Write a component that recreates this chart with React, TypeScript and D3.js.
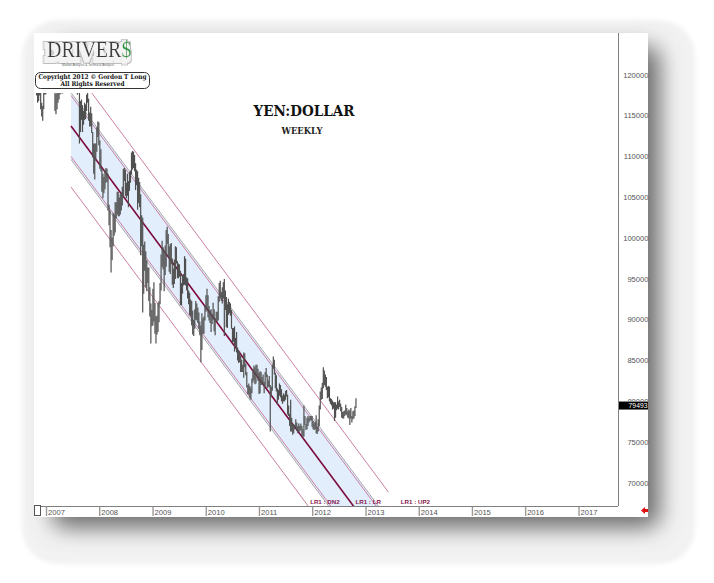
import React from "react";
import * as d3 from "d3";

// ---------- DATA (USDJPY x1000, weekly high/low, values in thousands) ----------
const yearLabels = ["2007", "2008", "2009", "2010", "2011", "2012", "2013", "2014", "2015", "2016", "2017"];
const priceTicks = [70000, 75000, 80000, 85000, 90000, 95000, 100000, 105000, 110000, 115000, 120000];
const lastPrice = 79493;

const start2006 = "2006-10-09";
const w2006: [number, number][] = [
  [118.6, 119.9], [118.5, 119.7], [117.5, 119.4], [116.6, 117.9], [116.8, 118.2], [117.5, 118.3],
  [115.8, 118.0], [114.9, 116.6], [114.4, 116.2], [115.8, 118.0], [117.6, 118.8], [117.6, 119.4],
];
const start2007 = "2007-01-01";
const w2007: [number, number][] = [
  [118.3, 119.9], [119.3, 121.0], [120.2, 121.9], [120.4, 122.2], [120.2, 121.5],
  [119.9, 121.9], [118.9, 121.4], [120.6, 121.7], [115.6, 120.8],
  [115.2, 117.7], [115.8, 118.0], [116.6, 118.2], [117.0, 118.4],
  [117.6, 118.5], [118.4, 120.2], [117.7, 119.5], [118.2, 120.0], [119.4, 120.6],
  [119.3, 120.6], [119.6, 121.0], [120.6, 121.9], [120.8, 122.0],
  [120.9, 122.2], [121.9, 123.0], [122.8, 124.1], [122.3, 123.9],
  [122.2, 123.4], [121.1, 123.0], [120.6, 122.5], [118.2, 121.8], [117.6, 119.9],
  [117.8, 119.9], [111.6, 118.9], [113.0, 116.8], [114.5, 117.0],
  [113.0, 116.3], [113.9, 115.6], [114.5, 116.6], [114.6, 116.4],
  [115.6, 117.6], [116.6, 117.9], [114.4, 117.1], [113.7, 115.4], [113.7, 116.1],
  [112.9, 115.3], [109.9, 113.0], [107.9, 111.6], [107.2, 111.6],
  [109.5, 111.6], [110.6, 113.6], [112.4, 114.3], [111.4, 114.2], [108.5, 112.0],
];
const start2008 = "2008-01-07";
const w2008: [number, number][] = [
  [108.2, 110.9], [105.7, 108.6], [104.9, 107.9], [105.5, 107.5],
  [106.0, 108.4], [106.8, 108.6], [106.9, 108.5], [103.4, 107.9],
  [101.6, 104.1], [98.9, 103.4], [95.8, 101.0], [97.3, 100.1], [99.0, 103.1],
  [100.3, 102.9], [100.7, 104.4], [102.4, 104.4], [102.9, 105.7],
  [102.7, 105.7], [102.7, 105.0], [102.9, 105.4], [103.4, 105.6],
  [104.0, 106.3], [105.0, 108.5], [107.0, 108.6], [105.2, 108.4], [104.9, 106.8],
  [105.2, 107.9], [103.8, 107.0], [105.8, 108.1], [106.8, 108.3],
  [107.8, 110.5], [108.4, 110.7], [108.6, 110.6], [108.2, 110.2],
  [105.9, 109.2], [106.5, 108.4], [103.5, 108.2], [104.3, 107.4], [103.8, 106.9],
  [97.9, 105.4], [99.0, 102.8], [90.9, 102.5], [93.2, 99.2],
  [96.0, 99.6], [94.0, 98.4], [93.5, 97.3], [94.5, 96.4],
  [92.3, 96.4], [90.4, 94.0], [87.1, 92.0], [89.2, 91.2], [89.3, 93.8],
];
const start2009 = "2009-01-05";
const w2009: [number, number][] = [
  [89.8, 94.6], [88.3, 92.1], [87.1, 90.4], [88.2, 90.5],
  [88.5, 92.1], [89.7, 92.3], [91.9, 94.5], [93.6, 98.0],
  [96.5, 99.7], [96.2, 98.9], [93.5, 98.5], [95.5, 99.1], [96.5, 101.0],
  [99.3, 101.4], [97.7, 100.5], [95.9, 99.0], [95.6, 99.3],
  [96.8, 99.4], [94.3, 97.5], [93.9, 96.3], [94.4, 97.4],
  [95.0, 99.0], [96.9, 98.9], [95.1, 97.2], [95.1, 96.9], [95.3, 96.8],
  [91.8, 96.0], [91.8, 94.5], [93.2, 95.5], [94.2, 95.6],
  [94.3, 97.8], [94.2, 97.5], [93.6, 95.2], [92.6, 95.1], [91.9, 93.6],
  [90.6, 93.3], [90.4, 92.5], [89.3, 92.3], [88.2, 91.1],
  [88.0, 90.0], [88.9, 91.3], [90.0, 92.3], [89.9, 92.0],
  [89.6, 91.5], [88.9, 90.9], [88.1, 89.8], [84.8, 89.3], [86.3, 90.8],
  [88.3, 90.2], [88.3, 90.4], [89.9, 91.8], [91.0, 93.0],
];
const start2010 = "2010-01-04";
const w2010: [number, number][] = [
  [91.4, 93.8], [90.3, 93.0], [89.9, 91.7], [89.6, 91.2],
  [88.5, 91.3], [89.5, 90.7], [90.0, 92.1], [88.6, 91.3],
  [88.1, 90.2], [89.9, 91.0], [89.8, 91.0], [89.9, 92.9], [92.2, 94.5],
  [92.6, 94.8], [92.3, 93.4], [92.0, 94.0], [92.6, 94.6],
  [88.0, 95.0], [91.2, 93.6], [89.1, 92.8], [89.0, 91.9],
  [90.6, 92.6], [90.8, 92.2], [90.5, 92.0], [88.9, 91.2], [87.2, 89.0],
  [87.3, 89.0], [86.1, 89.2], [86.8, 87.8], [86.0, 88.5],
  [85.0, 86.6], [84.7, 86.3], [84.8, 86.1], [83.6, 85.6], [83.6, 85.1],
  [83.6, 84.5], [82.9, 86.0], [84.2, 85.9], [83.2, 84.6],
  [81.7, 83.6], [80.9, 82.0], [80.8, 82.2], [80.4, 81.9],
  [80.2, 81.7], [81.0, 82.8], [82.3, 83.9], [82.6, 84.4], [82.1, 84.2],
  [82.2, 84.5], [83.2, 84.5], [82.5, 84.0], [80.9, 83.5],
];
const start2011 = "2011-01-03";
const w2011: [number, number][] = [
  [81.0, 83.7], [82.0, 83.6], [82.0, 83.0], [82.0, 83.3], [81.0, 82.4],
  [81.9, 83.6], [83.0, 84.1], [81.6, 83.3], [81.8, 82.6],
  [81.7, 83.1], [76.3, 82.0], [80.5, 81.8], [81.3, 84.5],
  [84.0, 85.5], [83.3, 85.1], [81.6, 83.5], [81.2, 83.2],
  [79.6, 81.6], [80.2, 81.4], [80.7, 82.2], [80.5, 82.0], [80.0, 81.5],
  [79.7, 80.7], [80.0, 81.0], [80.0, 80.8], [80.2, 81.3],
  [80.6, 81.4], [78.4, 80.8], [78.2, 79.5], [77.0, 78.5],
  [76.3, 80.2], [76.3, 78.0], [75.9, 77.3], [76.1, 77.2], [76.6, 77.1],
  [76.8, 77.8], [76.4, 77.4], [76.1, 77.0], [76.3, 77.3],
  [76.3, 77.0], [76.5, 77.3], [75.8, 77.0], [75.6, 76.6], [75.7, 79.5],
  [77.1, 78.2], [76.5, 77.2], [76.6, 78.0], [77.0, 78.2],
  [77.4, 78.0], [77.6, 78.2], [77.7, 78.2], [76.9, 78.2],
];
const start2012 = "2012-01-02";
const w2012: [number, number][] = [
  [76.6, 77.6], [76.5, 77.3], [76.6, 77.5], [76.1, 78.3], [76.0, 76.9],
  [76.3, 77.8], [77.0, 79.5], [79.0, 81.2], [80.2, 81.7],
  [80.3, 82.3], [81.6, 84.2], [82.0, 83.8], [81.8, 83.3],
  [81.4, 83.0], [80.4, 81.8], [80.5, 81.9], [80.0, 81.8], [79.7, 80.4],
  [79.5, 80.3], [79.0, 80.1], [79.1, 79.9], [77.6, 79.9],
  [78.0, 79.9], [78.9, 79.6], [79.1, 80.6], [79.0, 80.0],
  [79.3, 80.2], [78.8, 79.7], [78.0, 79.3], [77.9, 78.7], [77.9, 78.8],
  [78.2, 78.9], [78.4, 79.6], [78.3, 79.2], [78.0, 78.8],
  [77.9, 79.0], [77.1, 78.9], [77.9, 79.2], [77.4, 78.2],
  [77.8, 78.8], [77.9, 78.9], [78.2, 79.4], [79.2, 80.4],
];

// Linear regression channel (two anchor points each, thousands)
const lrDates = ["2007-06-18", "2013-06-03"];
const lrCenter = [113.75, 61.43];
const lrUp1 = [117.49, 65.17];
const lrDn1 = [110.01, 57.69];
const lrUpG = [117.85, 65.53];
const lrDnG = [109.65, 57.33];
const lrUp2 = [121.22, 68.9];
const lrDn2 = [106.28, 53.96];

// ---------- LAYOUT ----------
const W = 714, H = 583;
const imgL = 34, imgT = 33, imgR = 648, imgB = 517;
const plotL = 34, plotT = 33, plotR = 618, plotB = 506;

const parse = d3.timeParse("%Y-%m-%d");
const x = d3.scaleTime()
  .domain([new Date(2007, 0, 1), new Date(2017, 0, 1)])
  .range([46.5, 579]);
const y = d3.scaleLinear().domain([70000, 120000]).range([483, 75]);

const segments: [string, [number, number][]][] = [
  [start2006, w2006], [start2007, w2007], [start2008, w2008], [start2009, w2009],
  [start2010, w2010], [start2011, w2011], [start2012, w2012],
];

type Bar = { d: Date; lo: number; hi: number };
const bars: Bar[] = [];
segments.forEach(([s, arr]) => {
  const d0 = parse(s)!;
  arr.forEach(([lo, hi], i) => {
    bars.push({ d: d3.timeDay.offset(d0, 7 * i + 2), lo: lo * 1000, hi: hi * 1000 });
  });
});

const D0 = parse(lrDates[0])!;
const D1 = parse(lrDates[1])!;
const lineAt = (v: number[]) => ({
  x1: x(D0), y1: y(v[0] * 1000), x2: x(D1), y2: y(v[1] * 1000),
});
const crossX = (v: number[]) => {
  const vb = y.invert(plotB) / 1000;
  const t = +D0 + ((vb - v[0]) / (v[1] - v[0])) * (+D1 - +D0);
  return x(new Date(t));
};

const serif = "'DejaVu Serif', 'Liberation Serif', serif";
const sans = "'Liberation Sans', Arial, sans-serif";

export default function App() {
  const band = [
    [x(D0), y(lrUpG[0] * 1000)], [x(D1), y(lrUpG[1] * 1000)],
    [x(D1), y(lrDnG[1] * 1000)], [x(D0), y(lrDnG[0] * 1000)],
  ].map((p) => p.join(",")).join(" ");

  const pink = "#cc7fa6";
  const maroon = "#7d0a3c";
  const labelCol = "#8a1850";

  return (
    <svg width={W} height={H} style={{ position: "absolute", left: 0, top: 0 }}>
      <defs>
        <filter id="sh" x="-20%" y="-20%" width="140%" height="140%">
          <feGaussianBlur stdDeviation="11" />
        </filter>
        <filter id="outer" x="-10%" y="-10%" width="120%" height="120%">
          <feGaussianBlur stdDeviation="2" />
        </filter>
        <filter id="emb" x="-30%" y="-60%" width="160%" height="220%">
          <feMorphology in="SourceAlpha" operator="dilate" radius="3.2" result="d1" />
          <feFlood floodColor="#bdbdbd" result="c1" />
          <feComposite in="c1" in2="d1" operator="in" result="o1" />
          <feOffset in="o1" dx="-2" dy="3" result="o1s" />
          <feMorphology in="SourceAlpha" operator="dilate" radius="2.4" result="d2" />
          <feFlood floodColor="#f3f3f3" result="c2" />
          <feComposite in="c2" in2="d2" operator="in" result="o2" />
          <feOffset in="o2" dx="-2" dy="3" result="o2s" />
          <feMerge>
            <feMergeNode in="o1s" />
            <feMergeNode in="o2s" />
            <feMergeNode in="SourceGraphic" />
          </feMerge>
        </filter>
        <clipPath id="plot">
          <rect x={plotL} y={plotT} width={plotR - plotL} height={plotB - plotT} />
        </clipPath>
        <clipPath id="lbl80">
          <rect x={600} y={380} width={60} height={21} />
        </clipPath>
      </defs>
      <rect x={0} y={0} width={W} height={H} fill="#ffffff" />
      {/* outer soft frame */}
      <rect x={22} y={20} width={673} height={544} rx={36} fill="#f2f2f2" filter="url(#outer)" />
      {/* drop shadow */}
      <rect x={52} y={46} width={608} height={482} rx={14} fill="#6e6e6e" filter="url(#sh)" />
      {/* chart image */}
      <rect x={imgL} y={imgT} width={imgR - imgL} height={imgB - imgT} fill="#ffffff" />

      <g clipPath="url(#plot)">
        <polygon points={band} fill="#e2eefb" />
        {[lrUpG, lrDnG].map((v, i) => (
          <line key={"g" + i} {...lineAt(v)} stroke="#a9a9a9" strokeWidth={1} />
        ))}
        {[lrUp1, lrDn1, lrUp2, lrDn2].map((v, i) => (
          <line key={"p" + i} {...lineAt(v)} stroke={pink} strokeWidth={1} />
        ))}
        <line {...lineAt(lrCenter)} stroke={maroon} strokeWidth={1.6} />
        {bars.map((b, i) => (
          <line key={i} x1={x(b.d)} x2={x(b.d)} y1={y(b.hi)} y2={y(b.lo)} stroke="#505050" strokeWidth={1.2} />
        ))}
      </g>

      {/* logo area */}
      <rect x={imgL} y={imgT} width={118} height={60} fill="#ffffff" />
      <g filter="url(#emb)" transform="translate(47,57) scale(1,1.12)">
        <text x={0} y={0} fontFamily="'Liberation Serif', serif" fontSize={20} fill="#3c3c3c">
          DRIVER<tspan fill="#2f9a45">$</tspan>
        </text>
      </g>
      <text x={62} y={66} fontFamily={sans} fontSize={3} fill="#666" textLength={52} lengthAdjust="spacingAndGlyphs">
        Market Analysis &amp; Technical Analysis
      </text>
      <rect x={35.5} y={72.5} width={114} height={16} rx={5} fill="#ffffff" stroke="#333" strokeWidth={1} />
      <text x={92.5} y={79} textAnchor="middle" fontFamily={serif} fontWeight="bold" fontSize={6.6} fill="#111"
        textLength={108} lengthAdjust="spacingAndGlyphs">Copyright 2012 © Gordon T Long</text>
      <text x={92.5} y={86} textAnchor="middle" fontFamily={serif} fontWeight="bold" fontSize={6.6} fill="#111"
        textLength={64} lengthAdjust="spacingAndGlyphs">All Rights Reserved</text>

      {/* title */}
      <text x={304} y={116} textAnchor="middle" fontFamily={serif} fontWeight="bold" fontSize={14} fill="#111"
        textLength={101} lengthAdjust="spacingAndGlyphs">YEN:DOLLAR</text>
      <text x={302} y={133.5} textAnchor="middle" fontFamily={serif} fontWeight="bold" fontSize={8.5} fill="#222"
        textLength={41} lengthAdjust="spacingAndGlyphs">WEEKLY</text>

      {/* LR labels */}
      {([[lrDn2, "LR1 : DN2"], [lrCenter, "LR1 : LR"], [lrUp2, "LR1 : UP2"]] as [number[], string][]).map(([v, t]) => (
        <text key={t} x={crossX(v) + 2} y={504} fontFamily={sans} fontWeight="bold" fontSize={6.2} fill={labelCol}>{t}</text>
      ))}

      {/* frame */}
      <line x1={plotL} x2={plotR} y1={plotB + 0.5} y2={plotB + 0.5} stroke="#808080" strokeWidth={1} />
      <line x1={plotR + 0.5} x2={plotR + 0.5} y1={plotT} y2={plotB} stroke="#808080" strokeWidth={1} />
      <rect x={34.5} y={505.5} width={6} height={10} fill="#fff" stroke="#555" strokeWidth={1} />

      {/* x axis */}
      {yearLabels.map((yl) => {
        const xx = x(new Date(+yl, 0, 1));
        return (
          <g key={yl}>
            <line x1={xx} x2={xx} y1={507} y2={516} stroke="#9a9a9a" strokeWidth={1.4} />
            <text x={xx + 1.5} y={514.5} fontFamily={sans} fontSize={7.6} fill="#555">{yl}</text>
          </g>
        );
      })}

      {/* y axis */}
      {priceTicks.map((v) => (
        <text key={v} x={648.5} y={y(v)} dy="0.35em" textAnchor="end" fontFamily={sans} fontSize={7.6} fill="#555"
          clipPath={v === 80000 ? "url(#lbl80)" : undefined}>{v}</text>
      ))}
      <rect x={619} y={y(lastPrice) - 4} width={29} height={8} fill="#000" />
      <text x={647.5} y={y(lastPrice) + 0.5} dy="0.35em" textAnchor="end" fontFamily={sans} fontSize={6.8} fill="#fff">{lastPrice}</text>

      {/* red arrow */}
      <path d="M641,510.5 L645,507 L645,509 L648,509 L648,512 L645,512 L645,514 Z" fill="#e01010" />
    </svg>
  );
}
